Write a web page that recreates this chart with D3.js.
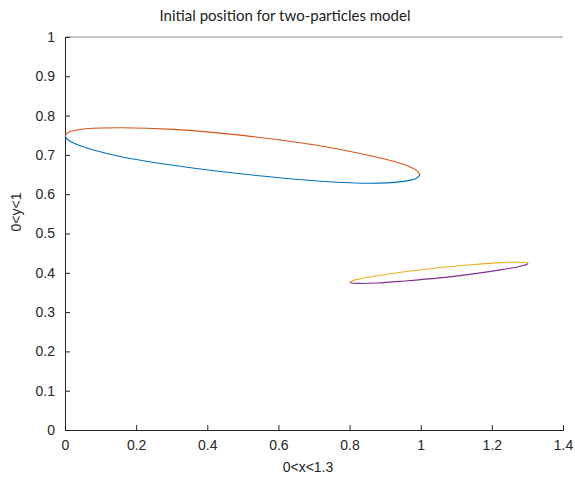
<!DOCTYPE html>
<html>
<head>
<meta charset="utf-8">
<script src="https://cdn.jsdelivr.net/npm/d3@7"></script>
<style>
    body { margin: 0; background: #fff; }
    text { font-family: "Liberation Sans", Arial, sans-serif; }
</style>
</head>
<body>
<svg id="graph" width="575" height="482"></svg>
<script>
// values, [x, y]
const particle1Upper = [[0, 0.749], [0.011, 0.758], [0.053, 0.766], [0.154, 0.769], [0.305, 0.765],
    [0.505, 0.749], [0.704, 0.725], [0.853, 0.699], [0.951, 0.676], [0.989, 0.660], [0.998, 0.649]];
const particle1Lower = [[0, 0.749], [0.009, 0.738], [0.047, 0.722], [0.145, 0.698], [0.294, 0.675],
    [0.493, 0.652], [0.693, 0.635], [0.844, 0.628], [0.946, 0.632], [0.987, 0.640], [0.998, 0.649]];
const particle2Upper = [[0.801, 0.376], [0.806, 0.379], [0.826, 0.384], [0.875, 0.392], [0.950, 0.402],
    [1.050, 0.413], [1.150, 0.421], [1.225, 0.426], [1.275, 0.427], [1.296, 0.426], [1.302, 0.424]];
const particle2Lower = [[0.801, 0.376], [0.806, 0.374], [0.827, 0.373], [0.877, 0.374], [0.953, 0.379],
    [1.053, 0.387], [1.153, 0.398], [1.228, 0.408], [1.277, 0.416], [1.297, 0.421], [1.302, 0.424]];
const seriesColors = ['#D95319', '#0072BD', '#EDB120', '#7E2F8E'];
const xTicks = [0, 0.2, 0.4, 0.6, 0.8, 1, 1.2, 1.4];
const yTicks = [0, 0.1, 0.2, 0.3, 0.4, 0.5, 0.6, 0.7, 0.8, 0.9, 1];

(function () {
    let svg = d3.select('#graph'),
        margin = {top: 37, right: 12, bottom: 52, left: 65},
        width = svg.attr('width') - margin.left - margin.right,
        height = svg.attr('height') - margin.top - margin.bottom,
        g = svg.append('g').attr('transform', `translate(${margin.left},${margin.top})`)
    ;
    let x = d3.scaleLinear().domain([0, 1.4]).range([0, width]),
        y = d3.scaleLinear().domain([0, 1]).range([height, 0])
    ;
    let line = d3.line()
        .curve(d3.curveCatmullRom.alpha(0.5))
        .x(d => x(d[0]))
        .y(d => y(d[1]))
    ;
    const axisColor = '#262626';

    // top border line
    g.append('line')
        .attr('x1', 0).attr('x2', width)
        .attr('y1', 0).attr('y2', 0)
        .attr('stroke', '#8c8c8c')
        .attr('stroke-width', 1);

    let xAxis = g.append('g')
        .attr('transform', 'translate(0,' + height + ')')
        .call(d3.axisBottom(x).tickValues(xTicks).tickSize(-5).tickPadding(10).tickFormat(d3.format('')));
    let yAxis = g.append('g')
        .call(d3.axisLeft(y).tickValues(yTicks).tickSize(-5).tickPadding(10).tickFormat(d3.format('')));

    [xAxis, yAxis].forEach(a => {
        a.select('.domain').attr('stroke', axisColor);
        a.selectAll('.tick line').attr('stroke', axisColor);
        a.selectAll('.tick text')
            .attr('fill', axisColor)
            .style('font-size', '14px')
            .style('font-family', '"Liberation Sans", Arial, sans-serif');
    });

    [particle1Upper, particle1Lower, particle2Upper, particle2Lower].forEach((pts, i) => {
        g.append('path')
            .attr('d', line(pts))
            .style('fill', 'none')
            .style('stroke', seriesColors[i])
            .style('stroke-width', '1.1px');
    });

    svg.append('text')
        .attr('x', 285).attr('y', 21)
        .attr('text-anchor', 'middle')
        .style('font-family', 'Lato, "Open Sans", sans-serif')
        .style('font-size', '15px')
        .attr('fill', '#222')
        .text('Initial position for two-particles model');

    svg.append('text')
        .attr('x', 308).attr('y', 472)
        .attr('text-anchor', 'middle')
        .style('font-size', '14px')
        .attr('fill', axisColor)
        .text('0<x<1.3');

    svg.append('text')
        .attr('transform', 'translate(21,212) rotate(-90)')
        .attr('text-anchor', 'middle')
        .style('font-size', '14px')
        .attr('fill', axisColor)
        .text('0<y<1');
}());
</script>
</body>
</html>
